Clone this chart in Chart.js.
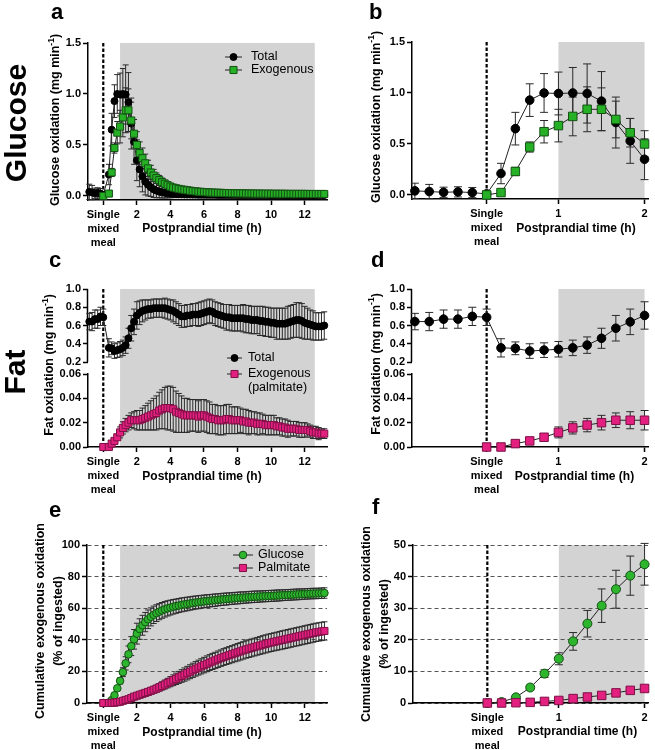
<!DOCTYPE html>
<html>
<head>
<meta charset="utf-8">
<script src="https://cdn.jsdelivr.net/npm/chart.js@4.4.1/dist/chart.umd.min.js"></script>
<style>
  body { margin: 0; background: #fff; }
  #fig { position: relative; width: 655px; height: 750px; overflow: hidden; font-family: "Liberation Sans", Arial, sans-serif; }
  #fig canvas { position: absolute; }
  .letter { position: absolute; font-weight: bold; font-size: 22px; line-height: 1; }
  .row { position: absolute; width: 140px; height: 36px; line-height: 36px; text-align: center;
         font-weight: bold; font-size: 30px; transform: rotate(-90deg); }
</style>
</head>
<body>
<div id="fig">
  <canvas id="pa" width="333" height="250" style="left:0;top:0"></canvas>
  <canvas id="pb" width="325" height="250" style="left:330px;top:0"></canvas>
  <canvas id="pc" width="333" height="250" style="left:0;top:250px"></canvas>
  <canvas id="pd" width="325" height="250" style="left:330px;top:250px"></canvas>
  <canvas id="pe" width="333" height="250" style="left:0;top:500px"></canvas>
  <canvas id="pf" width="325" height="250" style="left:330px;top:500px"></canvas>
  <div class="letter" style="left:51px;top:1px">a</div>
  <div class="letter" style="left:369px;top:1px">b</div>
  <div class="letter" style="left:49px;top:249px">c</div>
  <div class="letter" style="left:371px;top:249px">d</div>
  <div class="letter" style="left:49px;top:499px">e</div>
  <div class="letter" style="left:372px;top:496px">f</div>
  <div class="row" style="left:-54px;top:105px">Glucose</div>
  <div class="row" style="left:-55px;top:354px">Fat</div>
</div>
<script>
// samples every 10 min: 5 baseline values, meal value, then 13 h postprandial (6 per hour)
const glucTotal = [
  0.04, 0.033, 0.026, 0.03, 0.023, 0.01,
  0.21, 0.65, 0.93, 1.0, 0.995, 1.0,
  0.995, 0.92, 0.71, 0.53, 0.35, 0.26,
  0.19, 0.14, 0.11, 0.085, 0.065, 0.052,
  0.042, 0.035, 0.03, 0.026, 0.022, 0.02,
  0.018, 0.017, 0.016, 0.015, 0.014, 0.014,
  0.013, 0.013, 0.012, 0.012, 0.012, 0.011,
  0.011, 0.011, 0.011, 0.01, 0.01, 0.01,
  0.01, 0.01, 0.01, 0.01, 0.009, 0.009,
  0.009, 0.009, 0.009, 0.009, 0.009, 0.009,
  0.009, 0.009, 0.009, 0.009, 0.008, 0.008,
  0.008, 0.008, 0.008, 0.008, 0.008, 0.008,
  0.008, 0.008, 0.008, 0.008, 0.008, 0.008,
  0.008, 0.008, 0.008, 0.008, 0.008, 0.008
];
const glucTotalSd = [
  0.075, 0.07, 0.05, 0.05, 0.05, 0.02,
  0.1, 0.16, 0.16, 0.19, 0.21, 0.25,
  0.29, 0.29, 0.25, 0.22, 0.2, 0.17,
  0.15, 0.13, 0.11, 0.09, 0.08, 0.07,
  0.06, 0.055, 0.05, 0.045, 0.04, 0.035,
  0.032, 0.03, 0.028, 0.026, 0.024, 0.022,
  0.02, 0.02, 0.019, 0.019, 0.018, 0.018,
  0.017, 0.017, 0.017, 0.016, 0.016, 0.016,
  0.015, 0.015, 0.015, 0.015, 0.015, 0.014,
  0.014, 0.014, 0.014, 0.014, 0.014, 0.013,
  0.013, 0.013, 0.013, 0.013, 0.013, 0.013,
  0.013, 0.012, 0.012, 0.012, 0.012, 0.012,
  0.012, 0.012, 0.012, 0.012, 0.012, 0.012,
  0.012, 0.012, 0.012, 0.012, 0.012, 0.012
];
const glucExo = [
  null, null, null, null, null, 0,
  0.023, 0.23, 0.47, 0.62, 0.68, 0.77,
  0.84, 0.84, 0.74, 0.61, 0.5, 0.42,
  0.37, 0.32, 0.27, 0.23, 0.2, 0.175,
  0.155, 0.135, 0.12, 0.105, 0.092, 0.082,
  0.075, 0.069, 0.064, 0.06, 0.056, 0.052,
  0.048, 0.045, 0.042, 0.04, 0.038, 0.036,
  0.034, 0.033, 0.032, 0.031, 0.03, 0.029,
  0.028, 0.027, 0.027, 0.026, 0.026, 0.025,
  0.025, 0.024, 0.024, 0.024, 0.023, 0.023,
  0.023, 0.022, 0.022, 0.022, 0.022, 0.021,
  0.021, 0.021, 0.021, 0.021, 0.02, 0.02,
  0.02, 0.02, 0.02, 0.02, 0.02, 0.019,
  0.019, 0.019, 0.019, 0.019, 0.019, 0.019
];
const glucExoSd = [
  null, null, null, null, null, 0.005,
  0.01, 0.04, 0.05, 0.11, 0.16, 0.19,
  0.22, 0.21, 0.18, 0.14, 0.13, 0.11,
  0.1, 0.09, 0.08, 0.07, 0.06, 0.05,
  0.045, 0.04, 0.036, 0.033, 0.03, 0.028,
  0.026, 0.024, 0.022, 0.021, 0.02, 0.019,
  0.018, 0.017, 0.016, 0.016, 0.015, 0.015,
  0.014, 0.014, 0.014, 0.013, 0.013, 0.013,
  0.012, 0.012, 0.012, 0.012, 0.012, 0.011,
  0.011, 0.011, 0.011, 0.011, 0.011, 0.011,
  0.01, 0.01, 0.01, 0.01, 0.01, 0.01,
  0.01, 0.01, 0.01, 0.01, 0.01, 0.01,
  0.01, 0.01, 0.01, 0.01, 0.01, 0.01,
  0.01, 0.01, 0.01, 0.01, 0.01, 0.01
];
const fatTotal = [
  0.643, 0.643, 0.67, 0.67, 0.70, 0.69,
  0.355, 0.35, 0.32, 0.33, 0.34, 0.355,
  0.385, 0.46, 0.57, 0.64, 0.71, 0.74,
  0.76, 0.77, 0.78, 0.78, 0.79, 0.79,
  0.79, 0.79, 0.79, 0.78, 0.77, 0.76,
  0.74, 0.72, 0.70, 0.70, 0.71, 0.71,
  0.72, 0.72, 0.72, 0.73, 0.74, 0.75,
  0.76, 0.75, 0.73, 0.72, 0.71, 0.70,
  0.69, 0.69, 0.68, 0.68, 0.68, 0.68,
  0.68, 0.67, 0.67, 0.66, 0.66, 0.66,
  0.65, 0.65, 0.64, 0.64, 0.63, 0.63,
  0.62, 0.62, 0.62, 0.62, 0.63, 0.64,
  0.65, 0.66, 0.66, 0.65, 0.63, 0.62,
  0.61, 0.60, 0.59, 0.59, 0.59, 0.60
];
const fatTotalSd = [
  0.09, 0.1, 0.1, 0.1, 0.1, 0.09,
  0.1, 0.07, 0.08, 0.08, 0.085, 0.085,
  0.09, 0.11, 0.14, 0.14, 0.15, 0.13,
  0.12, 0.11, 0.1, 0.1, 0.1, 0.1,
  0.1, 0.1, 0.11, 0.11, 0.11, 0.12,
  0.12, 0.12, 0.12, 0.12, 0.12, 0.12,
  0.12, 0.12, 0.13, 0.13, 0.13, 0.13,
  0.13, 0.13, 0.13, 0.13, 0.13, 0.13,
  0.14, 0.14, 0.14, 0.14, 0.14, 0.14,
  0.15, 0.15, 0.15, 0.15, 0.15, 0.15,
  0.16, 0.16, 0.16, 0.16, 0.16, 0.16,
  0.17, 0.17, 0.17, 0.17, 0.18, 0.18,
  0.18, 0.19, 0.19, 0.19, 0.18, 0.17,
  0.16, 0.16, 0.15, 0.15, 0.15, 0.15
];
const fatExo = [
  null, null, null, null, null, 0,
  0, 0.0028, 0.005, 0.008, 0.012, 0.0157,
  0.018, 0.02, 0.022, 0.022, 0.022, 0.022,
  0.023, 0.024, 0.025, 0.026, 0.027, 0.028,
  0.03, 0.031, 0.032, 0.032, 0.032, 0.031,
  0.029, 0.028, 0.027, 0.026, 0.026, 0.026,
  0.026, 0.026, 0.025, 0.026, 0.026, 0.025,
  0.024, 0.023, 0.023, 0.022, 0.022, 0.022,
  0.023, 0.023, 0.022, 0.022, 0.022, 0.022,
  0.021, 0.021, 0.02, 0.02, 0.02, 0.019,
  0.019, 0.019, 0.018, 0.018, 0.018, 0.018,
  0.017, 0.017, 0.016, 0.016, 0.015, 0.015,
  0.015, 0.015, 0.014, 0.014, 0.014, 0.014,
  0.013, 0.012, 0.012, 0.011, 0.011, 0.011
];
const fatExoSd = [
  null, null, null, null, null, 0,
  0, 0.001, 0.001, 0.002, 0.0045, 0.005,
  0.0055, 0.006, 0.006, 0.007, 0.008, 0.008,
  0.009, 0.01, 0.011, 0.012, 0.013, 0.014,
  0.015, 0.016, 0.017, 0.018, 0.018, 0.018,
  0.017, 0.016, 0.015, 0.014, 0.014, 0.013,
  0.013, 0.013, 0.013, 0.013, 0.013, 0.013,
  0.013, 0.012, 0.012, 0.012, 0.012, 0.012,
  0.012, 0.012, 0.011, 0.011, 0.011, 0.01,
  0.01, 0.01, 0.01, 0.009, 0.009, 0.009,
  0.009, 0.008, 0.008, 0.008, 0.008, 0.008,
  0.007, 0.007, 0.007, 0.007, 0.007, 0.006,
  0.006, 0.006, 0.006, 0.006, 0.006, 0.005,
  0.005, 0.005, 0.005, 0.005, 0.004, 0.004
];
const cumGluc = [
  null, null, null, null, null, 0,
  0.3, 1.8, 4.9, 9.3, 14.0, 19.5,
  25.1, 30.8, 36.0, 40.3, 43.9, 46.8,
  49.2, 51.2, 53, 54.5, 55.8, 56.9,
  57.8, 58.6, 59.3, 59.9, 60.4, 60.9,
  61.3, 61.7, 62.1, 62.4, 62.7, 63,
  63.3, 63.6, 63.8, 64.1, 64.3, 64.5,
  64.7, 64.9, 65.1, 65.3, 65.5, 65.7,
  65.8, 66, 66.1, 66.3, 66.4, 66.6,
  66.7, 66.8, 67, 67.1, 67.2, 67.3,
  67.4, 67.5, 67.6, 67.7, 67.8, 67.9,
  68, 68.1, 68.2, 68.3, 68.4, 68.5,
  68.6, 68.7, 68.8, 68.9, 69, 69.1,
  69.2, 69.3, 69.3, 69.4, 69.5, 69.6
];
const cumGlucSd = [
  null, null, null, null, null, 0,
  0.1, 0.5, 0.8, 1.2, 1.9, 2.8,
  4.2, 5.3, 6, 6.2, 6.6, 6.5,
  6.3, 6.1, 5.9, 5.7, 5.5, 5.3,
  5.1, 5, 4.9, 4.8, 4.7, 4.6,
  4.5, 4.4, 4.4, 4.3, 4.3, 4.2,
  4.2, 4.1, 4.1, 4, 4, 4,
  3.9, 3.9, 3.9, 3.8, 3.8, 3.8,
  3.8, 3.7, 3.7, 3.7, 3.7, 3.7,
  3.6, 3.6, 3.6, 3.6, 3.6, 3.6,
  3.5, 3.5, 3.5, 3.5, 3.5, 3.5,
  3.5, 3.5, 3.4, 3.4, 3.4, 3.4,
  3.4, 3.4, 3.4, 3.3, 3.3, 3.3,
  3.3, 3.3, 3.3, 3.3, 3.3, 3.3
];
const cumPalm = [
  null, null, null, null, null, 0,
  0, 0.1, 0.2, 0.5, 0.8, 1.4,
  1.9, 2.4, 3.2, 4.0, 4.6, 5.2,
  5.8, 6.4, 7.0, 7.7, 8.4, 9.1,
  9.9, 10.8, 11.7, 12.6, 13.5, 14.4,
  15.3, 16.2, 17.1, 18, 18.9, 19.8,
  20.7, 21.6, 22.4, 23.2, 24.0, 24.8,
  25.6, 26.3, 27, 27.7, 28.4, 29.1,
  29.7, 30.3, 30.9, 31.5, 32.1, 32.7,
  33.3, 33.9, 34.4, 34.9, 35.4, 35.9,
  36.4, 36.9, 37.4, 37.9, 38.3, 38.7,
  39.1, 39.5, 39.9, 40.3, 40.7, 41.1,
  41.5, 41.9, 42.3, 42.7, 43.1, 43.5,
  43.9, 44.3, 44.7, 45, 45.3, 45.6
];
const cumPalmSd = [
  null, null, null, null, null, 0,
  0, 0.05, 0.1, 0.2, 0.3, 0.4,
  0.5, 0.6, 0.7, 0.8, 0.9, 1.0,
  1.2, 1.4, 1.6, 1.8, 2, 2.2,
  2.4, 2.6, 2.8, 3, 3.2, 3.4,
  3.6, 3.8, 4, 4.2, 4.3, 4.4,
  4.5, 4.6, 4.7, 4.8, 4.9, 5,
  5, 5.1, 5.1, 5.2, 5.2, 5.3,
  5.3, 5.4, 5.4, 5.4, 5.5, 5.5,
  5.5, 5.5, 5.6, 5.6, 5.6, 5.6,
  5.6, 5.7, 5.7, 5.7, 5.7, 5.7,
  5.7, 5.8, 5.8, 5.8, 5.8, 5.8,
  5.8, 5.8, 5.8, 5.8, 5.8, 5.8,
  5.8, 5.8, 5.8, 5.8, 5.8, 5.8
];

// time in hours: the full view puts the meal at 0, the 2 h close-up spaces all samples evenly
const timeFull = glucTotal.map((_, k) => k <= 5 ? (k - 5) / 6 : (k - 4) / 6);
const timeZoom = glucTotal.slice(0, 17).map((_, k) => (k - 4) / 6);
const mealLabel = ['Single', 'mixed', 'meal'];
const xTitle = 'Postprandial time (h)';

const FONT = '"Liberation Sans", Arial, sans-serif';
Chart.defaults.font.family = FONT;
Chart.defaults.color = '#000';

const gpPlugin = {
  id: 'gp',
  beforeDraw(chart, args, o) {
    const { ctx, chartArea: ca, scales: { x } } = chart;
    const x0 = Math.max(x.getPixelForValue(o.shade[0]), ca.left);
    const x1 = Math.min(x.getPixelForValue(o.shade[1]), ca.right);
    ctx.save();
    ctx.fillStyle = '#d3d3d3';
    ctx.fillRect(x0, ca.top, x1 - x0, ca.bottom - ca.top);
    ctx.restore();
  },
  beforeDatasetsDraw(chart, args, o) {
    const { ctx, chartArea: ca, scales } = chart;
    if (o.split) {
      // upper half of the broken y axis
      const s = scales[o.split.id];
      ctx.save();
      ctx.strokeStyle = '#000'; ctx.lineWidth = 1.5;
      ctx.beginPath();
      ctx.moveTo(ca.left - 0.5, s.getPixelForValue(o.split.to));
      ctx.lineTo(ca.left - 0.5, s.getPixelForValue(o.split.from));
      ctx.stroke();
      ctx.restore();
    }
    const mx = scales.x.getPixelForValue(o.meal);
    ctx.save();
    ctx.strokeStyle = '#000'; ctx.lineWidth = 2.2; ctx.setLineDash([3.5, 2]);
    ctx.beginPath(); ctx.moveTo(mx, ca.top); ctx.lineTo(mx, ca.bottom); ctx.stroke();
    ctx.restore();
    // error bars (mean +/- sd)
    chart.data.datasets.forEach((ds, di) => {
      const meta = chart.getDatasetMeta(di);
      const ys = scales[meta.yAxisID];
      const cap = ds.capW;
      ctx.save();
      ctx.strokeStyle = '#2a2a2a'; ctx.lineWidth = 1;
      ds.data.forEach((p, i) => {
        if (!p.sd) return;
        const px = meta.data[i].x;
        const t = ys.getPixelForValue(p.y + p.sd), b = ys.getPixelForValue(p.y - p.sd);
        ctx.beginPath();
        ctx.moveTo(px, t); ctx.lineTo(px, b);
        ctx.moveTo(px - cap, t); ctx.lineTo(px + cap, t);
        ctx.moveTo(px - cap, b); ctx.lineTo(px + cap, b);
        ctx.stroke();
      });
      ctx.restore();
    });
  },
  afterDraw(chart, args, o) {
    const ctx = chart.ctx;
    ctx.save();
    // x title
    ctx.font = 'bold 12px ' + FONT;
    ctx.fillStyle = '#000'; ctx.textAlign = 'center'; ctx.textBaseline = 'middle';
    ctx.fillText(xTitle, o.xt[0], o.xt[1]);
    // y title, rotated, with optional superscript
    const yt = o.yt;
    yt.lines.forEach((segs, i) => {
      ctx.save();
      ctx.translate(yt.x[i], yt.y);
      ctx.rotate(-Math.PI / 2);
      const fMain = 'bold ' + yt.size + 'px ' + FONT, fSup = 'bold ' + (yt.size * 0.68) + 'px ' + FONT;
      let w = 0;
      segs.forEach(s => { ctx.font = s.sup ? fSup : fMain; w += ctx.measureText(s.t).width; });
      let cx = -w / 2;
      ctx.textAlign = 'left'; ctx.textBaseline = 'middle';
      segs.forEach(s => {
        ctx.font = s.sup ? fSup : fMain;
        ctx.fillText(s.t, cx, s.sup ? -yt.size * 0.38 : 0);
        cx += ctx.measureText(s.t).width;
      });
      ctx.restore();
    });
    // legend
    const L = o.legend;
    L.items.forEach(it => {
      ctx.strokeStyle = '#222'; ctx.lineWidth = 1;
      ctx.beginPath(); ctx.moveTo(L.x0, it.y); ctx.lineTo(L.x1, it.y); ctx.stroke();
      ctx.fillStyle = it.st.fill; ctx.strokeStyle = it.st.stroke;
      Chart.helpers.drawPoint(ctx, { pointStyle: it.st.shape, radius: it.r, rotation: 0, borderWidth: 1 }, (L.x0 + L.x1) / 2, it.y);
      ctx.fillStyle = '#000';
      ctx.font = '12.5px ' + FONT; ctx.textAlign = 'left'; ctx.textBaseline = 'middle';
      it.text.forEach((t, j) => ctx.fillText(t, L.tx, it.y + j * 13.5));
    });
    ctx.restore();
  }
};

const BLACK = { shape: 'circle', fill: '#000', stroke: '#000' };
const GREEN_SQ = { shape: 'rect', fill: '#25b025', stroke: '#145214' };
const GREEN_DOT = { shape: 'circle', fill: '#2db52d', stroke: '#145214' };
const PINK = { shape: 'rect', fill: '#e3207f', stroke: '#7d1046' };

function pts(time, vals, sds) {
  const out = [];
  time.forEach((t, i) => { if (vals[i] !== null) out.push({ x: t, y: vals[i], sd: sds[i] }); });
  return out;
}

function series(data, st, r, cap, order, axis) {
  return {
    data, order, yAxisID: axis || 'y', capW: cap,
    borderColor: '#222', borderWidth: 1, tension: 0, clip: false,
    pointStyle: st.shape, pointRadius: r, pointBackgroundColor: st.fill,
    pointBorderColor: st.stroke, pointBorderWidth: 1
  };
}

function xAxis(min, max, ticks, meal, h) {
  return {
    type: 'linear', min, max,
    afterBuildTicks: s => { s.ticks = ticks.map(v => ({ value: v })); },
    afterFit: s => { s.height = h; s.paddingLeft = 0; s.paddingRight = 0; },
    ticks: {
      autoSkip: false, maxRotation: 0, padding: 3, color: '#000',
      font: { size: 11, weight: 'bold', lineHeight: 1.27 },
      callback: v => Math.abs(v - meal) < 1e-6 ? mealLabel : String(v)
    },
    grid: { drawOnChartArea: false, tickLength: 5, tickColor: '#000', tickWidth: 1.5 },
    border: { color: '#000', width: 1.5 }
  };
}

function yAxis(o) {
  return {
    type: 'linear', position: 'left', min: o.min, max: o.max,
    stack: o.stack, stackWeight: o.weight,
    afterBuildTicks: s => { s.ticks = o.ticks.map(v => ({ value: v })); },
    afterFit: s => { s.width = o.width; },
    ticks: { autoSkip: false, padding: 2, color: '#000', font: { size: 11, weight: 'bold' }, callback: v => v.toFixed(o.dec) },
    grid: o.grid
      ? { color: '#555', lineWidth: 1, tickLength: 5, tickColor: '#000', tickWidth: 1.5, tickBorderDash: [] }
      : { drawOnChartArea: false, tickLength: 5, tickColor: '#000', tickWidth: 1.5 },
    border: { display: o.border !== false, color: '#000', width: 1.5, dash: o.grid ? [4, 3] : [] }
  };
}

function makePanel(id, top, scales, datasets, gp) {
  return new Chart(document.getElementById(id), {
    type: 'line',
    data: { datasets },
    options: {
      responsive: false, animation: false, events: [],
      layout: { padding: { left: 0, top, right: 3, bottom: 0 } },
      scales,
      plugins: { legend: { display: false }, tooltip: { enabled: false }, gp }
    },
    plugins: [gpPlugin]
  });
}

const glucTitle = [[{ t: 'Glucose oxidation (mg min' }, { t: '-1', sup: true }, { t: ')' }]];
const fatTitle = [[{ t: 'Fat oxidation (mg min' }, { t: '-1', sup: true }, { t: ')' }]];
const cumTitle = [[{ t: 'Cumulative exogenous oxidation' }], [{ t: '(% of ingested)' }]];
const fullTicks = [0, 2, 4, 6, 8, 10, 12];
const zoomTicks = [1 / 6, 1, 2];
const N = 17;

// a
makePanel('pa', 43, {
  x: xAxis(-0.91, 13.33, fullTicks, 0, 50),
  y: yAxis({ min: -0.04, max: 1.5, ticks: [0, 0.5, 1, 1.5], dec: 1, width: 88 })
}, [
  series(pts(timeFull, glucExo, glucExoSd), GREEN_SQ, 5, 3, 0),
  series(pts(timeFull, glucTotal, glucTotalSd), BLACK, 3.5, 3, 1)
], {
  shade: [1, 12.6], meal: 0, xt: [202, 229],
  yt: { lines: glucTitle, x: [56], y: 120, size: 12.5 },
  legend: { x0: 225, x1: 242, tx: 251, items: [
    { y: 57, text: ['Total'], st: BLACK, r: 3.5 },
    { y: 70, text: ['Exogenous'], st: GREEN_SQ, r: 5 }
  ] }
});

// b
makePanel('pb', 42, {
  x: xAxis(-0.70, 2.04, zoomTicks, 1 / 6, 51),
  y: yAxis({ min: -0.04, max: 1.5, ticks: [0, 0.5, 1, 1.5], dec: 1, width: 82 })
}, [
  series(pts(timeZoom, glucExo.slice(0, N), glucExoSd.slice(0, N)), GREEN_SQ, 6, 4, 0),
  series(pts(timeZoom, glucTotal.slice(0, N), glucTotalSd.slice(0, N)), BLACK, 4.3, 4, 1)
], {
  shade: [1, 2], meal: 1 / 6, xt: [246, 229],
  yt: { lines: glucTitle, x: [46.5], y: 117, size: 12.5 },
  legend: { items: [] }
});

// c
makePanel('pc', 39, {
  x: xAxis(-0.91, 13.33, fullTicks, 0, 53),
  yBot: yAxis({ min: 0, max: 0.06, ticks: [0, 0.02, 0.04, 0.06], dec: 2, width: 88, stack: 'fat', weight: 73 }),
  yTop: yAxis({ min: 0.2 - 0.8 * 12 / 73, max: 1.0, ticks: [0.2, 0.4, 0.6, 0.8, 1.0], dec: 1, width: 88, stack: 'fat', weight: 85, border: false })
}, [
  series(pts(timeFull, fatExo, fatExoSd), PINK, 5, 3, 0, 'yBot'),
  series(pts(timeFull, fatTotal, fatTotalSd), BLACK, 3.5, 3, 1, 'yTop')
], {
  shade: [1, 12.6], meal: 0, xt: [202, 227], split: { id: 'yTop', from: 0.2, to: 1.0 },
  yt: { lines: fatTitle, x: [50], y: 115, size: 12.5 },
  legend: { x0: 227, x1: 242, tx: 248, items: [
    { y: 108, text: ['Total'], st: BLACK, r: 3.5 },
    { y: 124, text: ['Exogenous', '(palmitate)'], st: PINK, r: 5 }
  ] }
});

// d
makePanel('pd', 39, {
  x: xAxis(-0.70, 2.04, zoomTicks, 1 / 6, 53),
  yBot: yAxis({ min: 0, max: 0.06, ticks: [0, 0.02, 0.04, 0.06], dec: 2, width: 82, stack: 'fat', weight: 73 }),
  yTop: yAxis({ min: 0.2 - 0.8 * 12 / 73, max: 1.0, ticks: [0.2, 0.4, 0.6, 0.8, 1.0], dec: 1, width: 82, stack: 'fat', weight: 85, border: false })
}, [
  series(pts(timeZoom, fatExo.slice(0, N), fatExoSd.slice(0, N)), PINK, 6, 4, 0, 'yBot'),
  series(pts(timeZoom, fatTotal.slice(0, N), fatTotalSd.slice(0, N)), BLACK, 4.3, 4, 1, 'yTop')
], {
  shade: [1, 2], meal: 1 / 6, xt: [244.5, 227], split: { id: 'yTop', from: 0.2, to: 1.0 },
  yt: { lines: fatTitle, x: [46.5], y: 114, size: 12.5 },
  legend: { items: [] }
});

// e
makePanel('pe', 45, {
  x: xAxis(-0.97, 13.32, fullTicks, 0, 47),
  y: yAxis({ min: 0, max: 100, ticks: [0, 20, 40, 60, 80, 100], dec: 0, width: 87, grid: true })
}, [
  series(pts(timeFull, cumPalm, cumPalmSd), PINK, 5, 3, 0),
  series(pts(timeFull, cumGluc, cumGlucSd), GREEN_DOT, 3.8, 3, 1)
], {
  shade: [1, 12.6], meal: 0, xt: [202, 233],
  yt: { lines: cumTitle, x: [41, 58.5], y: 121, size: 12.5 },
  legend: { x0: 233, x1: 253, tx: 258, items: [
    { y: 55, text: ['Glucose'], st: GREEN_DOT, r: 3.8 },
    { y: 68, text: ['Palmitate'], st: PINK, r: 5 }
  ] }
});

// f
makePanel('pf', 45, {
  x: xAxis(-0.70, 2.04, zoomTicks, 1 / 6, 47),
  y: yAxis({ min: 0, max: 50, ticks: [0, 10, 20, 30, 40, 50], dec: 0, width: 83, grid: true })
}, [
  series(pts(timeZoom, cumPalm.slice(0, N), cumPalmSd.slice(0, N)), PINK, 6, 4, 0),
  series(pts(timeZoom, cumGluc.slice(0, N), cumGlucSd.slice(0, N)), GREEN_DOT, 4.5, 4, 1)
], {
  shade: [1, 2], meal: 1 / 6, xt: [247.5, 232],
  yt: { lines: cumTitle, x: [37, 55], y: 124, size: 12.5 },
  legend: { items: [] }
});
</script>
</body>
</html>
